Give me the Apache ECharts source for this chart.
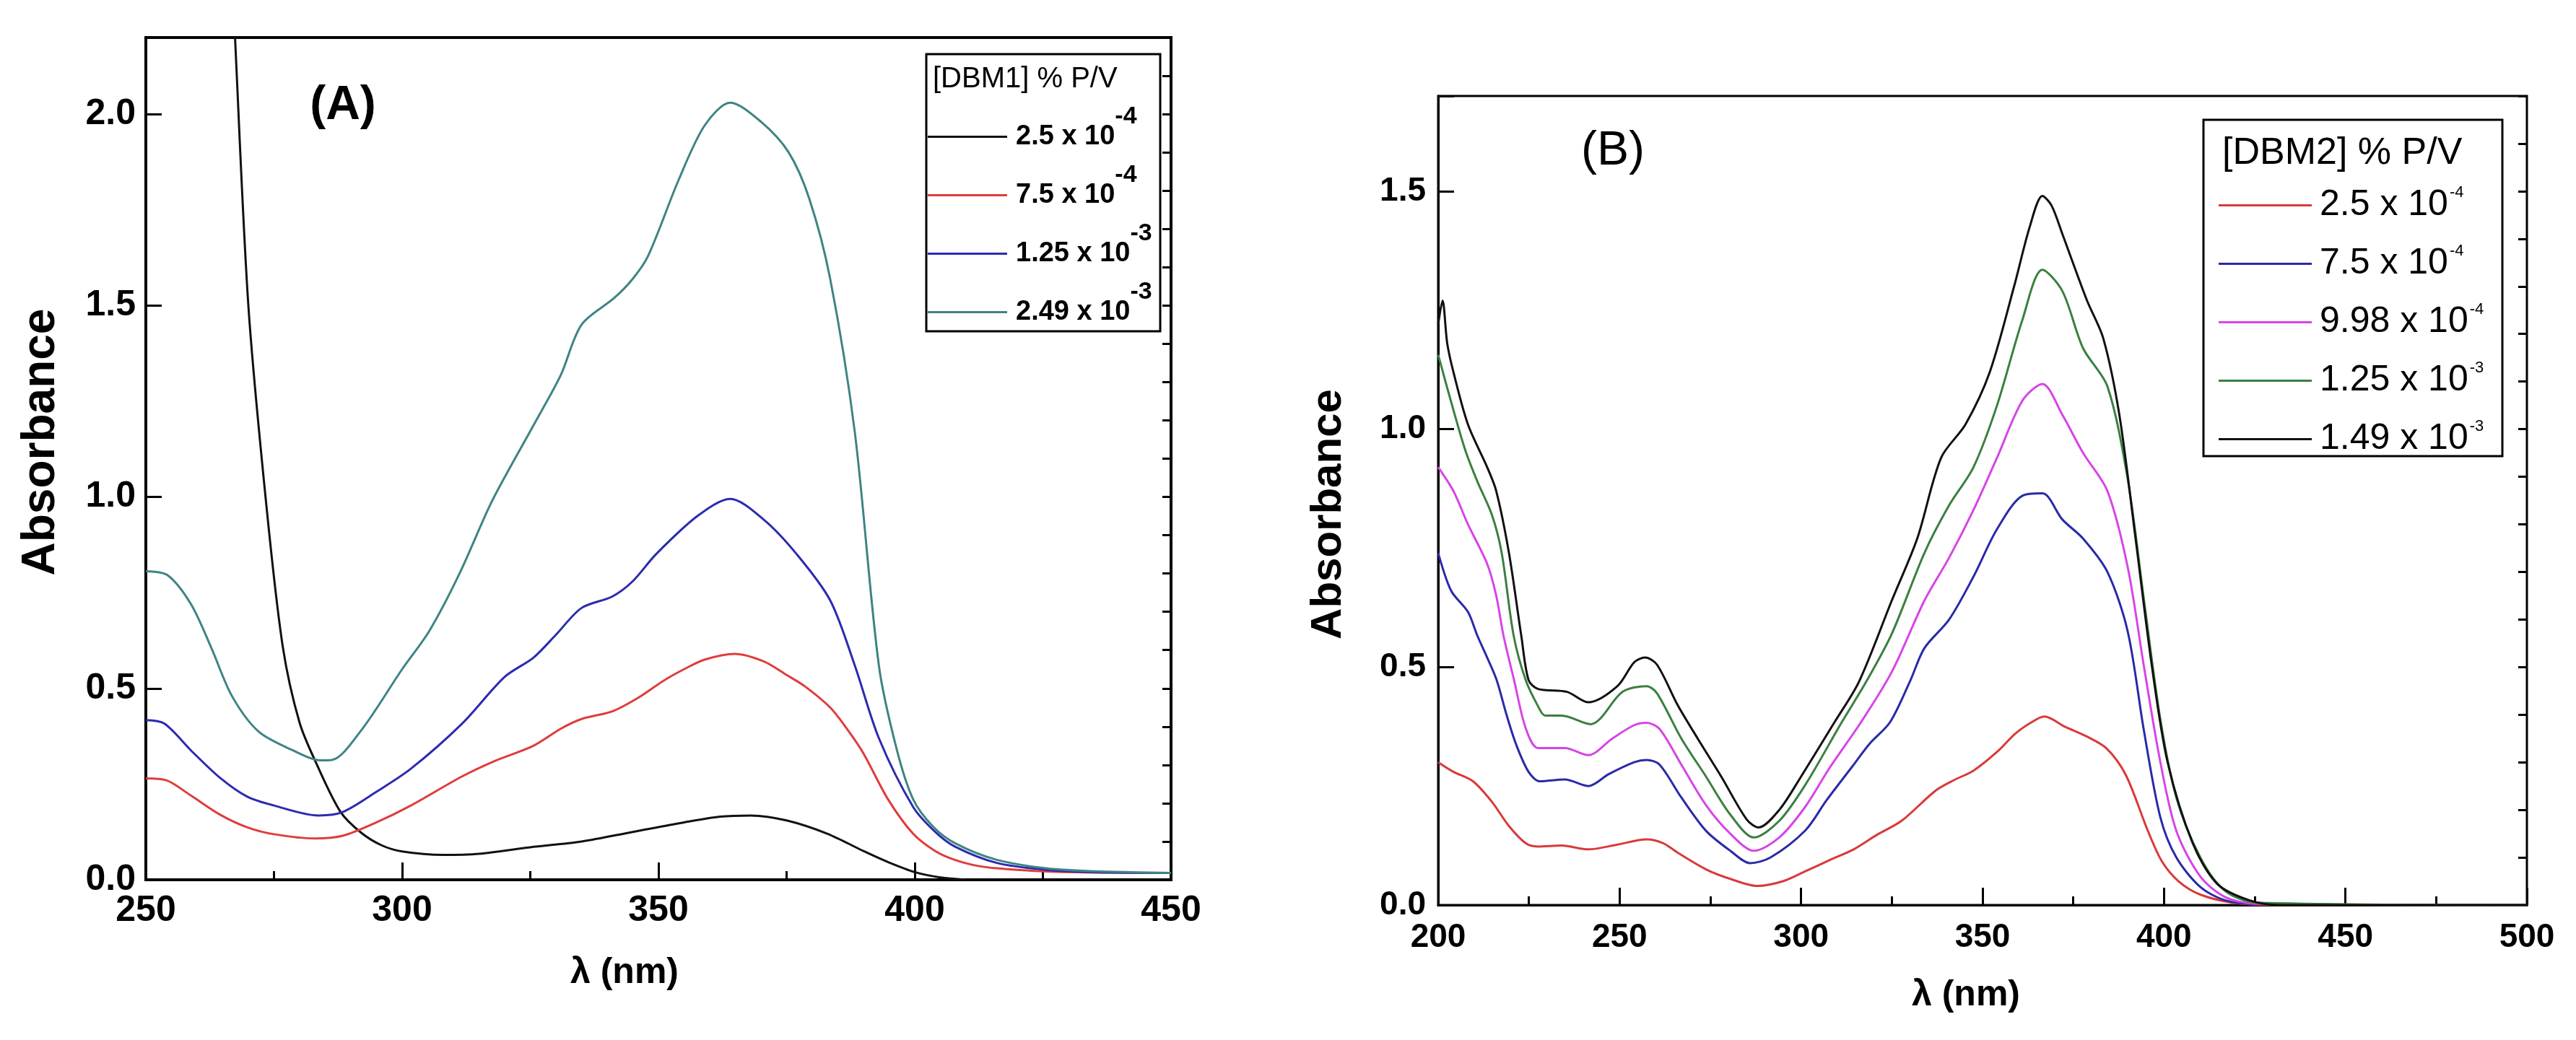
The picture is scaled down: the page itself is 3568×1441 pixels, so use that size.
<!DOCTYPE html>
<html>
<head>
<meta charset="UTF-8">
<title>UV-Vis DBM1 / DBM2</title>
<script src="https://cdn.jsdelivr.net/npm/echarts@6/dist/echarts.min.js"></script>
<style>
html, body { margin: 0; padding: 0; background: #fff; }
#chart { width: 3568px; height: 1441px; }
</style>
</head>
<body>
<div id="chart"></div>
<script>
// -- panel A : [DBM1] % P/V, wavelength (nm) / absorbance pairs
var dbm1_2_5e4 = [[263, 3.6], [265.5, 2.75], [267.4, 2.2], [270, 1.5], [273.5, 0.98], [276.7, 0.61], [280, 0.41],
  [283.4, 0.30], [288, 0.177], [292, 0.123], [296, 0.09], [300, 0.074], [308, 0.065], [315, 0.068], [325, 0.085],
  [335, 0.10], [345, 0.125], [355, 0.15], [362, 0.165], [368, 0.168], [375, 0.155], [383, 0.12], [390, 0.075],
  [395, 0.045], [400, 0.02], [405, 0.006], [410, 0]];
var dbm1_7_5e4 = [[250, 0.265], [254, 0.26], [258.8, 0.22], [264.5, 0.17], [269.8, 0.137], [275, 0.119], [283, 0.108],
  [288.4, 0.115], [295, 0.15], [301.7, 0.194], [311.7, 0.27], [318, 0.31], [325.6, 0.35], [331, 0.395], [335, 0.42],
  [341, 0.44], [346, 0.475], [351, 0.52], [355, 0.55], [359, 0.575], [364.9, 0.59], [370.6, 0.57], [375, 0.535],
  [378.6, 0.505], [383.5, 0.45], [387, 0.39], [390, 0.33], [394.8, 0.21], [399.7, 0.12], [404, 0.075],
  [407.8, 0.052], [412, 0.037], [416, 0.03], [425, 0.022], [435, 0.019], [450, 0.018]];
var dbm1_1_25e3 = [[250, 0.417], [253.6, 0.408], [258.8, 0.338], [264.5, 0.266], [269.8, 0.217], [275, 0.194],
  [283.7, 0.168], [288.4, 0.177], [295, 0.23], [301.7, 0.29], [311.7, 0.408], [320, 0.53], [325.6, 0.58],
  [330, 0.64], [335, 0.71], [341, 0.74], [345, 0.78], [349.5, 0.85], [357.6, 0.95], [364, 0.995], [370.6, 0.94],
  [377, 0.85], [383.5, 0.73], [388.3, 0.56], [393, 0.37], [399.7, 0.19], [404, 0.125], [407.8, 0.087],
  [416, 0.044], [425.6, 0.026], [435, 0.02], [450, 0.018]];
var dbm1_2_49e3 = [[250, 0.806], [254.2, 0.796], [258.8, 0.72], [262.8, 0.605], [266.8, 0.48], [272, 0.387],
  [278.7, 0.338], [284, 0.312], [286.3, 0.313], [292, 0.39], [300, 0.55], [305.3, 0.65], [311.2, 0.80],
  [317.2, 0.98], [322, 1.1], [327, 1.22], [331, 1.32], [335, 1.45], [341.4, 1.52], [345, 1.57], [348, 1.63],
  [354, 1.83], [359, 1.97], [364, 2.03], [370, 1.98], [375.4, 1.90], [379.4, 1.78], [383.5, 1.57], [388.3, 1.17],
  [393, 0.56], [396.5, 0.34], [399.7, 0.21], [403.5, 0.14], [407.8, 0.096], [416, 0.052], [425.6, 0.03],
  [435, 0.022], [450, 0.018]];

// -- panel B : [DBM2] % P/V
var dbm2_2_5e4 = [[200, 0.30], [204.2, 0.28], [209.6, 0.26], [214.9, 0.216], [219.5, 0.166], [224.1, 0.13],
  [227.5, 0.123], [234, 0.125], [241.4, 0.117], [249.4, 0.127], [257.4, 0.138], [262, 0.13], [266, 0.11],
  [273.8, 0.075], [280.5, 0.055], [288, 0.04], [295, 0.05], [301.2, 0.071], [308, 0.095], [314.5, 0.117],
  [321, 0.148], [327.7, 0.177], [337, 0.24], [342, 0.262], [347.6, 0.283], [354.3, 0.324], [359, 0.36],
  [363.5, 0.384], [367, 0.396], [372.9, 0.374], [378.5, 0.355], [384.2, 0.329], [389.5, 0.273], [395.5, 0.157],
  [399.4, 0.092], [404, 0.05], [410, 0.022], [419, 0.005], [430, 0], [500, 0]];
var dbm2_7_5e4 = [[200, 0.74], [203.6, 0.66], [208.2, 0.616], [210.8, 0.566], [213.5, 0.52], [216.1, 0.473],
  [218.9, 0.398], [221.5, 0.337], [224.9, 0.28], [228, 0.26], [234.9, 0.264], [241.4, 0.25], [247, 0.275],
  [254, 0.30], [257.4, 0.305], [261, 0.295], [267, 0.226], [273.8, 0.156], [280.5, 0.114], [286, 0.088],
  [291.6, 0.10], [301.2, 0.157], [307, 0.22], [314, 0.29], [319, 0.34], [324.5, 0.384], [330, 0.47],
  [334, 0.54], [340.8, 0.60], [347.5, 0.69], [354, 0.79], [361, 0.86], [366.5, 0.865], [372, 0.81],
  [377.7, 0.77], [384.4, 0.70], [390, 0.575], [394.5, 0.365], [399, 0.184], [403.4, 0.10], [410, 0.038],
  [416.8, 0.01], [425, 0.002], [500, 0]];
var dbm2_9_98e4 = [[200, 0.92], [204.2, 0.87], [208.2, 0.80], [213.5, 0.717], [216, 0.65], [218, 0.566],
  [220.9, 0.473], [224.1, 0.372], [227.5, 0.33], [234.9, 0.33], [241.4, 0.315], [248, 0.35], [254, 0.378],
  [257.4, 0.383], [261, 0.37], [267, 0.295], [273.8, 0.21], [280.5, 0.15], [287, 0.114], [294, 0.142],
  [301.2, 0.207], [308, 0.29], [316.5, 0.384], [325, 0.49], [334, 0.64], [340.8, 0.73], [347.5, 0.83],
  [354, 0.94], [361, 1.06], [366.5, 1.095], [372, 1.03], [377.7, 0.95], [384.4, 0.87], [390, 0.71],
  [394.5, 0.50], [399, 0.30], [403.4, 0.156], [410, 0.06], [416.8, 0.017], [425, 0.003], [500, 0]];
var dbm2_1_25e3 = [[200, 1.156], [204.2, 1.04], [207.5, 0.955], [210.8, 0.89], [214.8, 0.82], [217.5, 0.74],
  [220.8, 0.566], [224.1, 0.473], [227.5, 0.418], [229.5, 0.398], [234, 0.398], [242, 0.38], [250.8, 0.448],
  [257.4, 0.46], [260.3, 0.445], [267, 0.35], [273.8, 0.27], [280.5, 0.19], [287, 0.142], [294, 0.177],
  [301.2, 0.253], [311.2, 0.384], [318, 0.47], [325, 0.57], [334, 0.74], [340.8, 0.84], [347.5, 0.92],
  [354, 1.05], [361, 1.23], [366.5, 1.335], [372, 1.29], [377.7, 1.17], [384.4, 1.09], [390, 0.895],
  [394.5, 0.64], [399, 0.39], [403.4, 0.226], [410, 0.10], [416.8, 0.03], [425.7, 0.005], [500, 0]];
var dbm2_1_49e3 = [[200, 1.22], [201.2, 1.27], [202.5, 1.18], [204.2, 1.12], [208.2, 1.01], [213.5, 0.92],
  [216, 0.87], [219.5, 0.74], [222.9, 0.566], [224.9, 0.473], [227.5, 0.454], [235.5, 0.448], [241.4, 0.426],
  [249.4, 0.46], [254, 0.51], [257, 0.52], [260.3, 0.505], [266, 0.42], [271.5, 0.35], [278, 0.27], [285, 0.18],
  [288.3, 0.163], [294, 0.20], [300, 0.27], [309.2, 0.384], [316, 0.47], [325, 0.64], [332, 0.77],
  [338.6, 0.94], [345.3, 1.01], [352, 1.12], [358.7, 1.30], [363, 1.425], [366.5, 1.49], [369, 1.47],
  [372, 1.41], [378.8, 1.27], [383.3, 1.19], [387.7, 1.03], [392, 0.78], [396.7, 0.50], [401, 0.30],
  [407.9, 0.13], [414.6, 0.045], [423.5, 0.01], [432, 0], [500, 0]];

// legend entries: [series name, mantissa, exponent, colour, data]
var seriesA = [
  ['A1', '2.5 x 10', '-4', '#111111', dbm1_2_5e4],
  ['A2', '7.5 x 10', '-4', '#e03c3c', dbm1_7_5e4],
  ['A3', '1.25 x 10', '-3', '#2b2bb0', dbm1_1_25e3],
  ['A4', '2.49 x 10', '-3', '#3f8483', dbm1_2_49e3]
];
var seriesB = [
  ['B1', '2.5 x 10', '-4', '#d83a3a', dbm2_2_5e4],
  ['B2', '7.5 x 10', '-4', '#2a2aa8', dbm2_7_5e4],
  ['B3', '9.98 x 10', '-4', '#d645e6', dbm2_9_98e4],
  ['B4', '1.25 x 10', '-3', '#3a8040', dbm2_1_25e3],
  ['B5', '1.49 x 10', '-3', '#111111', dbm2_1_49e3]
];

var FONT = "'Liberation Sans', Arial, Helvetica, sans-serif";
var legendText = {};
seriesA.concat(seriesB).forEach(function (s) {
  legendText[s[0]] = '{b|' + s[1] + '}{s|' + s[2] + '}';
});

function halfLabel(v) {
  // only 0.0, 0.5, 1.0 ... get a label
  return Math.abs(v * 2 - Math.round(v * 2)) < 1e-6 ? v.toFixed(1) : '';
}

function xAxisOf(grid, min, max, lw, nameGap, namePad) {
  return {
    gridIndex: grid, type: 'value', min: min, max: max, interval: 50,
    axisLine: { lineStyle: { color: '#000', width: lw } },
    axisTick: { inside: true, length: 24, lineStyle: { color: '#000', width: 3 } },
    minorTick: { show: true, splitNumber: 2, length: 12, lineStyle: { color: '#000', width: 3 } },
    splitLine: { show: false },
    axisLabel: { color: '#000', fontSize: grid ? 46 : 50, fontWeight: 'bold', fontFamily: FONT, margin: grid ? 22 : 18 },
    name: 'λ (nm)', nameLocation: 'middle', nameGap: nameGap,
    nameTextStyle: { color: '#000', fontSize: 50, fontWeight: 'bold', fontFamily: FONT, padding: namePad }
  };
}

function yAxisMain(grid, max, lw, nameGap, namePad) {
  return {
    gridIndex: grid, type: 'value', min: 0, max: max, interval: 0.5,
    axisLine: { lineStyle: { color: '#000', width: lw } },
    axisTick: { inside: true, length: 22, lineStyle: { color: '#000', width: 3 } },
    splitLine: { show: false },
    axisLabel: { color: '#000', fontSize: grid ? 46 : 50, fontWeight: 'bold', fontFamily: FONT,
      margin: grid ? 17 : 14, formatter: halfLabel },
    name: 'Absorbance', nameLocation: 'middle', nameRotate: 90, nameGap: nameGap,
    nameTextStyle: { color: '#000', fontSize: grid ? 60 : 64, fontWeight: 'bold', fontFamily: FONT, padding: namePad }
  };
}

function yAxisMinor(grid, max) {
  return {
    gridIndex: grid, type: 'value', min: 0, max: max, interval: 0.1,
    axisLine: { show: false },
    axisTick: { inside: true, length: 12, lineStyle: { color: '#000', width: 3 } },
    axisLabel: { show: false },
    splitLine: { show: false }
  };
}

function lineSeries(s, xi, yi) {
  return {
    name: s[0], type: 'line', xAxisIndex: xi, yAxisIndex: yi, data: s[4],
    symbol: 'none', showSymbol: false, smooth: 0.3, clip: true, silent: true,
    lineStyle: { color: s[3], width: 3 }, itemStyle: { color: s[3] }
  };
}

function legendOf(list, left, top, itemWidth, itemGap, rich) {
  return {
    orient: 'vertical', left: left, top: top, padding: 0,
    data: list.map(function (s) { return s[0]; }),
    icon: 'rect', itemWidth: itemWidth, itemHeight: 3, itemGap: itemGap, selectedMode: false,
    formatter: function (name) { return legendText[name]; },
    textStyle: { color: '#000', fontFamily: FONT, rich: rich }
  };
}

var chart = echarts.init(document.getElementById('chart'));
chart.setOption({
  animation: false,
  backgroundColor: '#fff',
  grid: [
    { left: 202, top: 52, width: 1420, height: 1167, show: true, borderColor: '#000', borderWidth: 4 },
    { left: 1992, top: 133, width: 1508, height: 1121, show: true, borderColor: '#000', borderWidth: 3 }
  ],
  xAxis: [
    xAxisOf(0, 250, 450, 4, 104, [0, 94, 0, 0]),
    xAxisOf(1, 200, 500, 3, 100, [0, 46, 0, 0])
  ],
  yAxis: [
    yAxisMain(0, 2.2, 4, 113, [0, 0, 0, 46]),
    yAxisMinor(0, 2.2),
    yAxisMain(1, 1.7, 3, 122, [0, 38, 0, 0]),
    yAxisMinor(1, 1.7)
  ],
  legend: [
    legendOf(seriesA, 1285, 145, 110, -8, {
      b: { fontSize: 38, fontWeight: 'bold', lineHeight: 40, padding: [0, 0, 0, 7], fontFamily: FONT },
      s: { fontSize: 34, fontWeight: 'bold', lineHeight: 20, padding: [0, 0, 55, 0], fontFamily: FONT }
    }),
    legendOf(seriesB, 3073, 256, 129, 24, {
      b: { fontSize: 50, lineHeight: 50, padding: [0, 0, 0, 6], fontFamily: FONT },
      s: { fontSize: 22, lineHeight: 20, padding: [0, 0, 35, 2], fontFamily: FONT }
    })
  ],
  graphic: [
    { type: 'rect', shape: { x: 1283, y: 75, width: 324, height: 384 },
      style: { fill: 'none', stroke: '#000', lineWidth: 3 } },
    { type: 'rect', shape: { x: 3052, y: 166, width: 414, height: 466 },
      style: { fill: 'none', stroke: '#000', lineWidth: 3 } },
    { type: 'text', x: 1292, y: 110, style: { text: '[DBM1] % P/V', font: '40px ' + FONT,
      fill: '#000', textVerticalAlign: 'middle' } },
    { type: 'text', x: 3078, y: 213, style: { text: '[DBM2] % P/V', font: '52px ' + FONT,
      fill: '#000', textVerticalAlign: 'middle' } },
    { type: 'text', x: 475, y: 147, style: { text: '(A)', font: 'bold 66px ' + FONT, fill: '#000',
      textAlign: 'center', textVerticalAlign: 'middle' } },
    { type: 'text', x: 2234, y: 210, style: { text: '(B)', font: '66px ' + FONT, fill: '#000',
      textAlign: 'center', textVerticalAlign: 'middle' } }
  ],
  series: seriesA.map(function (s) { return lineSeries(s, 0, 0); })
    .concat(seriesB.map(function (s) { return lineSeries(s, 1, 2); }))
});
</script>
</body>
</html>
